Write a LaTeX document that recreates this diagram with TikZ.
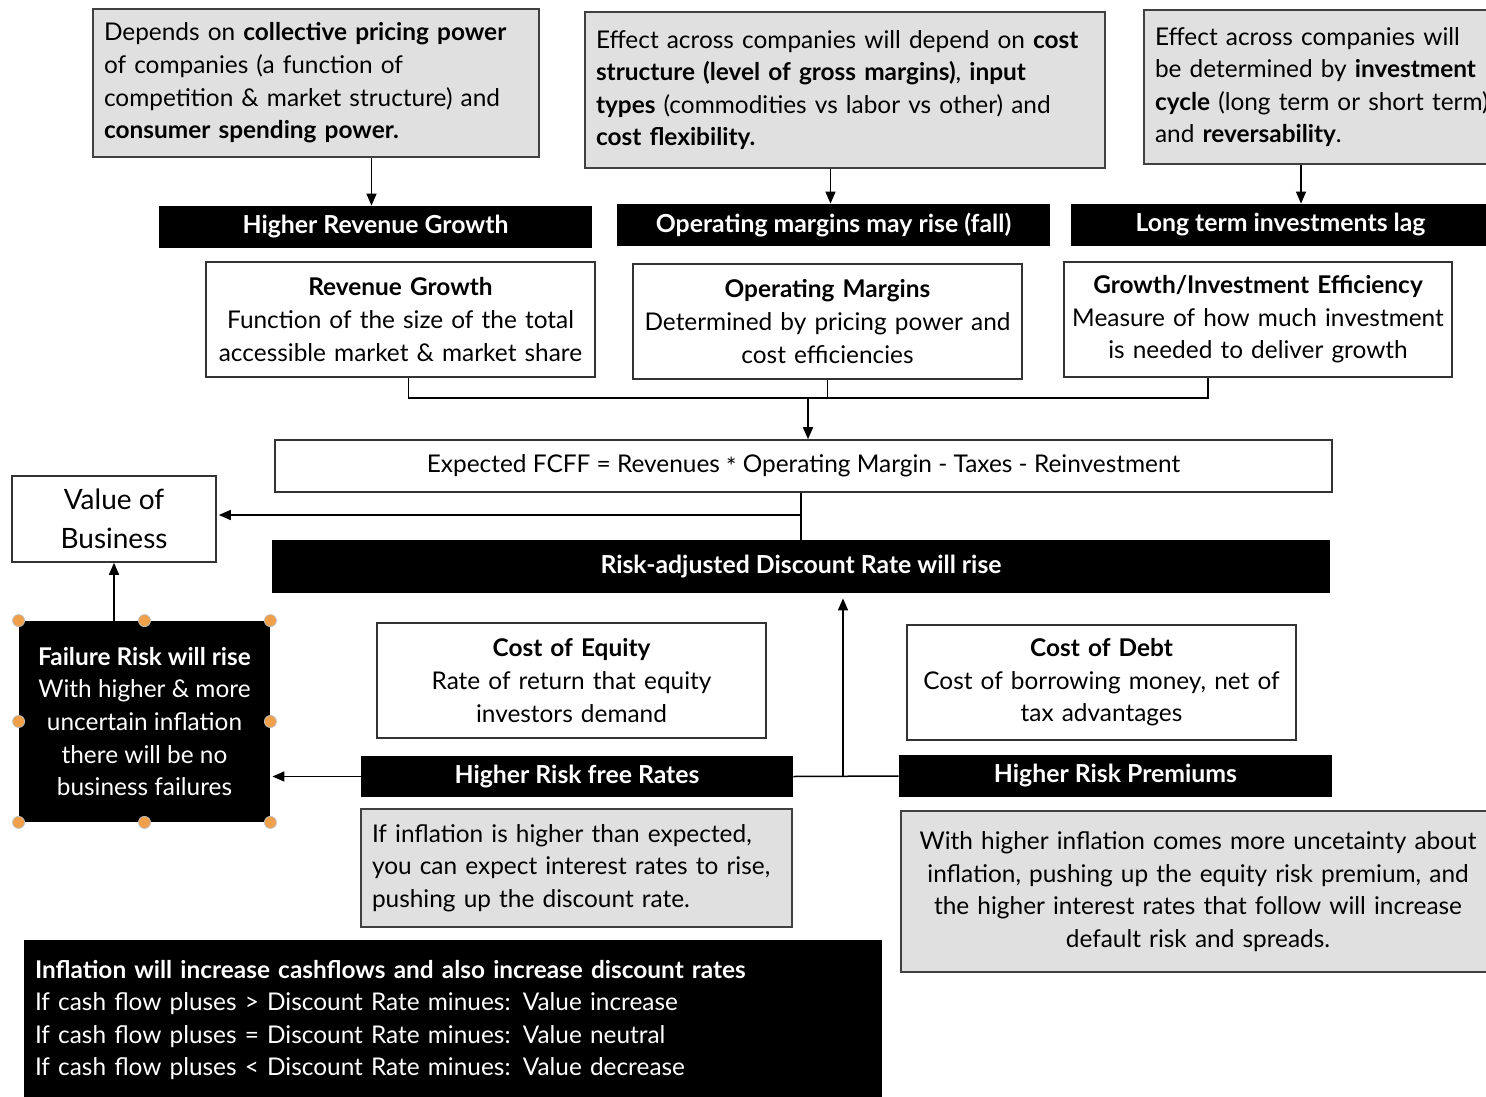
\documentclass[tikz,border=0pt]{standalone}
\usepackage{fontspec}
\setmainfont{Lato}
\usetikzlibrary{arrows.meta,calc}
\definecolor{boxgray}{HTML}{E0E0E0}
\definecolor{handle}{HTML}{F0A04B}
\begin{document}
\begin{tikzpicture}[x=0.5pt,y=-0.5pt,
  base/.style={inner xsep=5.5pt,inner ysep=3pt,font=\fontsize{12.2}{16.3}\selectfont},
  graybox/.style={base,draw=black!75,line width=1pt,fill=boxgray,align=left},
  whitebox/.style={base,inner xsep=2pt,draw=black!80,line width=0.8pt,align=center},
  blackbar/.style={base,fill=black,text=white,font=\fontsize{12.4}{16.3}\selectfont\bfseries},
  arr/.style={line width=0.75pt,-{Triangle[length=6pt,width=5pt]}},
  link/.style={line width=0.75pt}]
\useasboundingbox (0,0) rectangle (1486,1096);
% cash flow side
\node[graybox,text width=212pt,minimum height=74pt] (pricing) at (316,83)
  {Depends on \textbf{collective pricing power}\\ of companies (a function of\\ competition \& market structure) and\\ \textbf{consumer spending power.}};
\node[graybox,text width=249pt,minimum height=78pt] (coststr) at (845,90)
  {Effect across companies will depend on \textbf{cost}\\ \textbf{structure (level of gross margins)}, \textbf{input}\\ \textbf{types} (commodities vs labor vs other) and\\ \textbf{cost flexibility.}};
\node[graybox,anchor=north west,text width=200pt,minimum height=77pt] (cycle) at (1143,9)
  {Effect across companies will\\ be determined by \textbf{investment}\\ \textbf{cycle} (long term or short term)\\ and \textbf{reversability}.};
\node[blackbar,minimum width=216.5pt,minimum height=21pt] (revbar) at (375.5,227) {Higher Revenue Growth};
\node[blackbar,minimum width=216.5pt,minimum height=21pt] (opbar) at (833.5,225) {Operating margins may rise (fall)};
\node[blackbar,minimum width=209.5pt,minimum height=21pt] (invbar) at (1280.5,225) {Long term investments lag};
\node[whitebox,text width=190.5pt,minimum height=57.5pt] (revgr) at (400.5,319.5)
  {\textbf{Revenue Growth}\\ Function of the size of the total\\ accessible market \& market share};
\node[whitebox,text width=190.5pt,minimum height=57.5pt] (opmarg) at (827.5,321.5)
  {\textbf{Operating Margins}\\ Determined by pricing power and\\ cost efficiencies};
\node[whitebox,text width=190pt,minimum height=57.5pt] (effic) at (1258,319.5)
  {\textbf{Growth/Investment Efficiency}\\ Measure of how much investment\\ is needed to deliver growth};
\node[whitebox,minimum width=528.5pt,minimum height=26pt] (fcff) at (803.5,466)
  {Expected FCFF = Revenues \raisebox{-0.25ex}{*} Operating Margin - Taxes - Reinvestment};
\node[whitebox,minimum width=102pt,minimum height=43pt,font=\fontsize{14}{19.5}\selectfont] (value) at (114,519)
  {Value of\\ Business};
% discount rate side
\node[blackbar,minimum width=529pt,minimum height=26.5pt] (riskbar) at (801,566.5) {Risk-adjusted Discount Rate will rise};
\node[whitebox,text width=190.5pt,minimum height=57.5pt] (equity) at (571.5,680.5)
  {\textbf{Cost of Equity}\\ Rate of return that equity\\ investors demand};
\node[whitebox,text width=190.5pt,minimum height=57.5pt] (debt) at (1101.5,682.5)
  {\textbf{Cost of Debt}\\ Cost of borrowing money, net of\\ tax advantages};
\node[blackbar,minimum width=216pt,minimum height=20.5pt] (rfree) at (577,776.5) {Higher Risk free Rates};
\node[blackbar,minimum width=216.5pt,minimum height=21pt] (prem) at (1115.5,776) {Higher Risk Premiums};
\node[base,fill=black,text=white,align=center,minimum width=125.5pt,minimum height=100.5pt] (failure) at (144.5,721.5)
  {\textbf{Failure Risk will rise}\\ With higher \& more\\ uncertain inflation\\ there will be no\\ business failures};
\node[graybox,text width=204.5pt,minimum height=59pt] (rfnote) at (576.5,868)
  {If inflation is higher than expected,\\ you can expect interest rates to rise,\\ pushing up the discount rate.};
\node[graybox,align=center,text width=286pt,minimum height=80.5pt] (premnote) at (1198,891.5)
  {With higher inflation comes more uncetainty about\\ inflation, pushing up the equity risk premium, and\\ the higher interest rates that follow will increase\\ default risk and spreads.};
\node[base,fill=black,text=white,align=left,text width=418pt,minimum height=80pt] (summary) at (453,1020)
  {\textbf{Inflation will increase cashflows and also increase discount rates}\\ If cash flow pluses > Discount Rate minues: Value increase\\ If cash flow pluses = Discount Rate minues: Value neutral\\ If cash flow pluses < Discount Rate minues: Value decrease};
% selection handles
\foreach \a in {north west,north,north east,west,east,south west,south,south east}
  \fill[handle,draw=black!25,line width=0.4pt] (failure.\a) circle (3pt);
% connectors
\draw[arr] ([xshift=-2pt]revbar.north |- pricing.south) -- ([xshift=-2pt]revbar.north);
\draw[arr] ([xshift=-1.5pt]opbar.north |- coststr.south) -- ([xshift=-1.5pt]opbar.north);
\draw[arr] ([xshift=10.25pt]invbar.north |- cycle.south) -- ([xshift=10.25pt]invbar.north);
\coordinate (join) at (808,398);
\draw[link] ([xshift=4pt]revgr.south) -- ([xshift=4pt]revgr.south |- join) -- ([xshift=-25pt]effic.south |- join) -- ([xshift=-25pt]effic.south);
\draw[link] (opmarg.south) -- (opmarg.south |- join);
\draw[arr] (join) -- (join |- fcff.north);
\coordinate (split) at (801,515);
\draw[link] (split |- fcff.south) -- (split |- riskbar.north);
\draw[arr] (split) -- ([xshift=1pt]value.east |- split);
\coordinate (rise) at (843,777);
\draw[link] (rfree.east) -- (prem.west);
\draw[arr,shorten >=2.5pt] (rise) -- (rise |- riskbar.south);
\draw[arr] (rfree.west) -- ([xshift=1pt]failure.east |- rfree.west);
\draw[arr] (value.south |- failure.north) -- (value.south);
\end{tikzpicture}
\end{document}
